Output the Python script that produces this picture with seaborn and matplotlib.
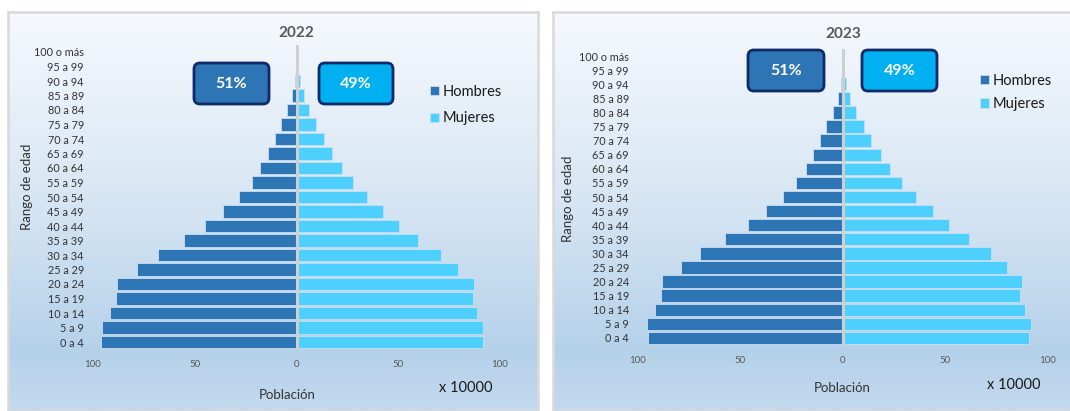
import numpy as np
import pandas as pd
import matplotlib
matplotlib.use("Agg")
import matplotlib.pyplot as plt
import seaborn as sns
from matplotlib.patches import FancyBboxPatch
from matplotlib.transforms import IdentityTransform
from matplotlib.colors import LinearSegmentedColormap

# ---------------- data ----------------
age_groups = ["100 o más", "95 a 99", "90 a 94", "85 a 89", "80 a 84", "75 a 79",
              "70 a 74", "65 a 69", "60 a 64", "55 a 59", "50 a 54", "45 a 49",
              "40 a 44", "35 a 39", "30 a 34", "25 a 29", "20 a 24", "15 a 19",
              "10 a 14", "5 a 9", "0 a 4"]

hombres_2022 = [0.05, 0.2, 0.9, 2.4, 4.9, 7.7, 10.7, 14.1, 17.7, 22.1, 28.1, 36.1,
                44.9, 55.5, 67.9, 78.3, 88.3, 88.9, 91.7, 95.5, 96.0]
mujeres_2022 = [0.05, 0.3, 1.5, 3.6, 6.1, 9.7, 13.4, 17.5, 22.3, 27.6, 34.6, 42.6,
                50.4, 59.7, 70.8, 79.3, 87.3, 86.5, 88.5, 91.6, 91.7]
hombres_2023 = [0.05, 0.3, 1.0, 2.6, 5.0, 8.1, 11.1, 14.4, 18.2, 23.0, 29.1, 37.4,
                46.3, 57.4, 69.8, 79.2, 88.1, 88.8, 91.9, 95.4, 94.9]
mujeres_2023 = [0.1, 0.5, 1.7, 3.5, 6.3, 10.1, 13.9, 18.3, 23.0, 28.6, 35.5, 44.0,
                51.7, 61.3, 72.2, 80.2, 87.3, 86.3, 88.6, 91.9, 90.9]

years = ["2022", "2023"]
share_hombres = [51, 51]
share_mujeres = [49, 49]
x_ticks = [-100, -50, 0, 50, 100]
x_tick_labels = ["100", "50", "0", "50", "100"]

# ---------------- style ----------------
sns.set_theme(style="white")
plt.rcParams["font.family"] = ["Lato", "DejaVu Sans"]

W, H = 1070, 411
fig = plt.figure(figsize=(W / 100, H / 100), dpi=100)

C_H = "#2E75B6"
C_M = "#4DD0FE"
C_BOX_M = "#00B0F0"
C_NAVY = "#0E2A68"

grad_cmap = LinearSegmentedColormap.from_list(
    "bg", [(0.0, "#f6f9fd"), (0.45, "#d9e7f4"), (0.85, "#b5d1ea"), (1.0, "#c3d9ee")])


def px_rect(x0, y0, x1, y1):
    """pixel box (top-left origin) -> figure fraction rect"""
    return [x0 / W, 1 - y1 / H, (x1 - x0) / W, (y1 - y0) / H]


def panel_bg(x0, x1):
    bg = fig.add_axes(px_rect(x0, 12, x1, 411), zorder=0)
    grad = np.linspace(0, 1, 256).reshape(-1, 1)
    bg.imshow(grad, aspect="auto", cmap=grad_cmap, extent=[0, 1, 0, 1], origin="upper")
    bg.set_xticks([]); bg.set_yticks([])
    for s in bg.spines.values():
        s.set_color("#d9d9d9"); s.set_linewidth(1.8)
    return bg


panel_bg(8, 538)
panel_bg(553, 1080)

configs = [
    dict(year=years[0], h=hombres_2022, m=mujeres_2022, sh=share_hombres[0], sm=share_mujeres[0],
         ax_px=(93, 44.75, 500, 349.25), title_y=33, box_h=(194, 63, 269, 104), box_m=(319, 63, 393, 104),
         leg=(430, 85, 0.85), ylab=(33, 187), xlab=(287, 389), mult=(466, 388)),
    dict(year=years[1], h=hombres_2023, m=mujeres_2023, sh=share_hombres[1], sm=share_mujeres[1],
         ax_px=(638, 49, 1048, 345), title_y=34, box_h=(748, 50, 824, 91), box_m=(862, 50, 937, 91),
         leg=(980, 74, 0.62), ylab=(574, 199), xlab=(842, 382), mult=(1014, 385)),
]

for cfg in configs:
    x0, y0, x1, y1 = cfg["ax_px"]
    ax = fig.add_axes(px_rect(x0, y0, x1, y1), zorder=2)
    ax.patch.set_alpha(0)
    df = pd.DataFrame({"edad": age_groups,
                       "Hombres": -np.array(cfg["h"]),
                       "Mujeres": np.array(cfg["m"])})
    sns.barplot(data=df, x="Hombres", y="edad", orient="h", color=C_H, saturation=1,
                width=0.88, edgecolor="#c9def2", linewidth=0.6, label="Hombres", ax=ax)
    sns.barplot(data=df, x="Mujeres", y="edad", orient="h", color=C_M, saturation=1,
                width=0.88, edgecolor="#c9def2", linewidth=0.6, label="Mujeres", ax=ax)
    ax.axvline(0, color="#cfcfcf", lw=2.2, zorder=5)
    ax.set_xlim(-100, 100)
    ax.set_ylim(len(age_groups) - 0.5, -0.5)
    ax.set_xticks(x_ticks)
    ax.set_xticklabels(x_tick_labels)
    for s in ax.spines.values():
        s.set_visible(False)
    ax.tick_params(axis="x", length=0, pad=8, labelsize=7, labelcolor="#595959")
    ax.tick_params(axis="y", length=0, pad=6.5, labelsize=7.8, labelcolor="#333333")
    ax.grid(False)

    ax.set_ylabel("Rango de edad", fontsize=9.5, color="#333333")
    ax.yaxis.set_label_coords((cfg["ylab"][0] - x0) / (x1 - x0), (y1 - cfg["ylab"][1]) / (y1 - y0))
    ax.set_xlabel("Población", fontsize=9.5, color="#333333")
    ax.xaxis.set_label_coords((cfg["xlab"][0] - x0) / (x1 - x0), (y1 - cfg["xlab"][1]) / (y1 - y0))

    cx = (x0 + x1) / 2
    fig.text(cx / W, 1 - cfg["title_y"] / H, cfg["year"], ha="center", va="center",
             fontsize=11, fontweight="bold", color="#595959")
    fig.text(cfg["mult"][0] / W, 1 - cfg["mult"][1] / H, "x 10000", ha="center", va="center",
             fontsize=10.5, color="#1a1a1a")

    for (bx0, by0, bx1, by1), fc, val in [(cfg["box_h"], C_H, cfg["sh"]), (cfg["box_m"], C_BOX_M, cfg["sm"])]:
        box = FancyBboxPatch((bx0, H - by1), bx1 - bx0, by1 - by0,
                             boxstyle="round,pad=0,rounding_size=6", transform=IdentityTransform(),
                             facecolor=fc, edgecolor=C_NAVY, linewidth=2.0, zorder=6)
        fig.patches.append(box)
        fig.text((bx0 + bx1) / 2 / W, 1 - (by0 + by1) / 2 / H, f"{val}%", ha="center", va="center",
                 fontsize=11.5, fontweight="bold", color="white", zorder=7)

    lx, ly, lsp = cfg["leg"]
    leg = ax.legend(loc="upper left", bbox_to_anchor=(lx / W, 1 - ly / H), bbox_transform=fig.transFigure,
                    frameon=False, fontsize=10.5, handlelength=0.6, handleheight=0.6,
                    handletextpad=0.3, labelspacing=lsp, borderpad=0, borderaxespad=0)
    for t in leg.get_texts():
        t.set_color("#1a1a1a")

fig.savefig("out.png", dpi=100)
